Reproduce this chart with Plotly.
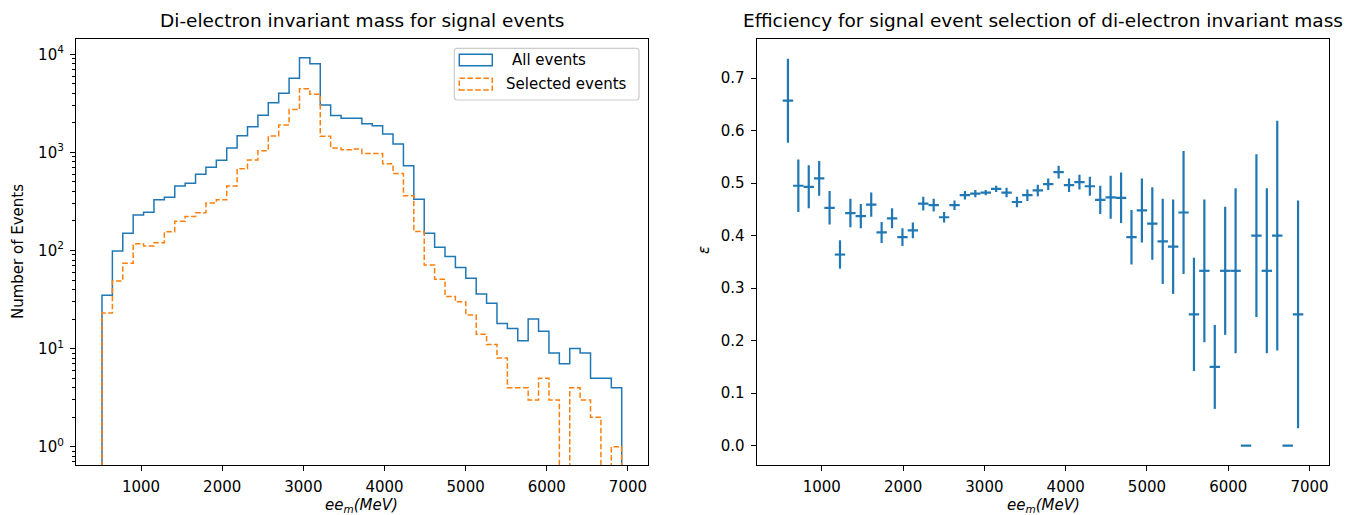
import numpy as np
import plotly.graph_objects as go

# ---- histogram binning of the di-electron invariant mass (MeV) ----
mass_min = 519.0
mass_max = 6923.0
n_bins = 50

# event counts per bin
all_events = [35, 99, 150, 230, 245, 330, 349, 455, 484, 598,
              705, 830, 1109, 1480, 1828, 2390, 3210, 4000, 5690, 9230,
              8020, 3040, 2380, 2228, 2228, 1963, 1872, 1540, 1218, 732,
              333, 150, 108, 87, 67, 52, 36, 29, 18, 16,
              12, 20, 15, 9, 7, 10, 9, 5, 5, 4]
selected_events = [23, 49, 74, 117, 111, 120, 155, 199, 222, 243,
                   305, 330, 455, 682, 837, 1040, 1470, 1908, 2731, 4449,
                   3922, 1465, 1109, 1063, 1083, 977, 975, 764, 611, 362,
                   156, 71, 51, 34, 30, 22, 14, 11, 8, 4,
                   4, 3, 5, 3, 0, 4, 3, 2, 0, 1]

# selection efficiency per bin and its uncertainty
efficiency = [0.657, 0.495, 0.493, 0.509, 0.453, 0.364, 0.443, 0.437, 0.459, 0.406,
              0.433, 0.397, 0.410, 0.461, 0.458, 0.435, 0.458, 0.477, 0.480, 0.482,
              0.489, 0.482, 0.464, 0.477, 0.486, 0.498, 0.521, 0.496, 0.502, 0.494,
              0.468, 0.473, 0.472, 0.397, 0.448, 0.423, 0.389, 0.379, 0.444, 0.250,
              0.333, 0.150, 0.333, 0.333, 0.000, 0.400, 0.333, 0.400, 0.000, 0.250]
efficiency_err = [0.080, 0.050, 0.041, 0.033, 0.032, 0.027, 0.027, 0.023, 0.023, 0.020,
                  0.019, 0.017, 0.015, 0.013, 0.012, 0.010, 0.009, 0.008, 0.007, 0.005,
                  0.006, 0.009, 0.010, 0.011, 0.011, 0.011, 0.012, 0.013, 0.014, 0.018,
                  0.027, 0.041, 0.048, 0.052, 0.061, 0.069, 0.081, 0.090, 0.117, 0.108,
                  0.136, 0.080, 0.122, 0.157, 0.000, 0.155, 0.157, 0.219, 0.000, 0.217]

x_ticks = [1000, 2000, 3000, 4000, 5000, 6000, 7000]
log_ticks = [1, 10, 100, 1000, 10000]
log_tick_text = ["10<sup>0</sup>", "10<sup>1</sup>", "10<sup>2</sup>", "10<sup>3</sup>", "10<sup>4</sup>"]
eff_ticks = [0.0, 0.1, 0.2, 0.3, 0.4, 0.5, 0.6, 0.7]
eff_tick_text = ["0.0", "0.1", "0.2", "0.3", "0.4", "0.5", "0.6", "0.7"]

BLUE = "#1f77b4"
ORANGE = "#ff7f0e"
FONT = "DejaVu Sans"
W, H = 1368, 515

edges = np.linspace(mass_min, mass_max, n_bins + 1)
centers = 0.5 * (edges[:-1] + edges[1:])
half_width = 0.5 * (edges[1] - edges[0])

# empty bins drop below the log axis, like a step histogram
FLOOR = 1e-2


def step_xy(counts):
    ys = [c if c > 0 else FLOOR for c in counts]
    xs = [edges[0]] + list(edges[:-1]) + [edges[-1]]
    return xs, [FLOOR] + ys + [FLOOR]


def px(x, y):
    return x / W, 1 - y / H


fig = go.Figure()

xa, ya = step_xy(all_events)
fig.add_trace(go.Scatter(x=xa, y=ya, mode="lines", line_shape="hv",
                         line=dict(color=BLUE, width=1.5),
                         xaxis="x", yaxis="y", showlegend=False,
                         name="All events"))
xs, ys = step_xy(selected_events)
fig.add_trace(go.Scatter(x=xs, y=ys, mode="lines", line_shape="hv",
                         line=dict(color=ORANGE, width=1.5, dash="5.5px,2.5px"),
                         xaxis="x", yaxis="y", showlegend=False,
                         name="Selected events"))

fig.add_trace(go.Scatter(x=centers, y=efficiency, mode="markers",
                         marker=dict(size=0.1, color=BLUE),
                         error_y=dict(type="data", array=efficiency_err, color=BLUE,
                                      thickness=2.2, width=0),
                         error_x=dict(type="constant", value=half_width, color=BLUE,
                                      thickness=2.2, width=0),
                         xaxis="x2", yaxis="y2", showlegend=False,
                         name="efficiency"))

left_dom = [76 / W, 647.7 / W]
right_dom = [756.7 / W, 1329.3 / W]
y_dom = [1 - 465 / H, 1 - 39 / H]
x_range = [mass_min - 0.05 * (mass_max - mass_min), mass_max + 0.05 * (mass_max - mass_min)]

axis_common = dict(showline=True, linecolor="black", linewidth=1.2, mirror=True,
                   ticks="outside", ticklen=5, tickwidth=1.2, tickcolor="black",
                   showgrid=False, zeroline=False,
                   tickfont=dict(family=FONT, size=15, color="black"))

minor_vals = [k * 10 ** e for e in range(-1, 5) for k in range(2, 10)]

fig.update_layout(
    width=W, height=H,
    margin=dict(l=0, r=0, t=0, b=0),
    paper_bgcolor="white", plot_bgcolor="white",
    font=dict(family=FONT, size=15, color="black"),
    xaxis=dict(domain=left_dom, range=x_range, tickmode="array", tickvals=x_ticks,
               anchor="y", ticklabelstandoff=3, **axis_common),
    yaxis=dict(domain=y_dom, type="log", range=[-0.1865, 4.156], tickmode="array",
               tickvals=log_ticks, ticktext=log_tick_text, anchor="x",
               ticklabelstandoff=3,
               minor=dict(ticks="outside", ticklen=3, tickwidth=0.9, tickcolor="black",
                          tickmode="array", tickvals=minor_vals, showgrid=False),
               **axis_common),
    xaxis2=dict(domain=right_dom, range=x_range, tickmode="array", tickvals=x_ticks,
                anchor="y2", ticklabelstandoff=3, **axis_common),
    yaxis2=dict(domain=y_dom, range=[-0.0369, 0.7745], tickmode="array",
                tickvals=eff_ticks, ticktext=eff_tick_text, anchor="x2",
                ticklabelstandoff=3, **axis_common),
)

annotations = []


def add_text(text, x, y, size=15, angle=0, xanchor="center", yanchor="middle"):
    xp, yp = px(x, y)
    annotations.append(dict(text=text, x=xp, y=yp, xref="paper", yref="paper",
                            showarrow=False, textangle=angle, xanchor=xanchor,
                            yanchor=yanchor, font=dict(family=FONT, size=size, color="black")))


add_text("Di-electron invariant mass for signal events", 361.8, 21, size=18.5)
add_text("Efficiency for signal event selection of di-electron invariant mass", 1043, 21, size=18.5)
add_text("<i>ee<sub>m</sub>(MeV)</i>", 361.8, 505)
add_text("<i>ee<sub>m</sub>(MeV)</i>", 1043, 505)
add_text("Number of Events", 18, 252, angle=-90)
add_text("<i>ε</i>", 704, 250, angle=-90)

# legend entries
add_text("All events", 510, 60.5, xanchor="left")
add_text("Selected events", 504.3, 84, xanchor="left")

shapes = []

# rounded legend frame
x0, y0, x1, y1, r = 454.3, 48.3, 639.0, 100.0, 3.0
pts = [("M", x0 + r, y0), ("L", x1 - r, y0), ("Q", x1, y0, x1, y0 + r),
       ("L", x1, y1 - r), ("Q", x1, y1, x1 - r, y1), ("L", x0 + r, y1),
       ("Q", x0, y1, x0, y1 - r), ("L", x0, y0 + r), ("Q", x0, y0, x0 + r, y0)]
path = ""
for p in pts:
    cmd = p[0]
    coords = p[1:]
    parts = []
    for i in range(0, len(coords), 2):
        a, b = px(coords[i], coords[i + 1])
        parts.append(f"{a:.6f},{b:.6f}")
    path += cmd + " ".join(parts) + " "
path += "Z"
shapes.append(dict(type="path", path=path, xref="paper", yref="paper",
                   fillcolor="rgba(255,255,255,0.8)", line=dict(color="#cccccc", width=1.2)))

for (ry0, ry1, color, dash) in [(54.3, 65.7, BLUE, "solid"), (78.3, 90.0, ORANGE, "5.5px,2.5px")]:
    ax0, ay0 = px(459.3, ry0)
    ax1, ay1 = px(492.3, ry1)
    shapes.append(dict(type="rect", x0=ax0, x1=ax1, y0=ay1, y1=ay0, xref="paper", yref="paper",
                       fillcolor="rgba(0,0,0,0)", line=dict(color=color, width=1.5, dash=dash)))

fig.update_layout(annotations=annotations, shapes=shapes)

fig.write_html("out.html")
